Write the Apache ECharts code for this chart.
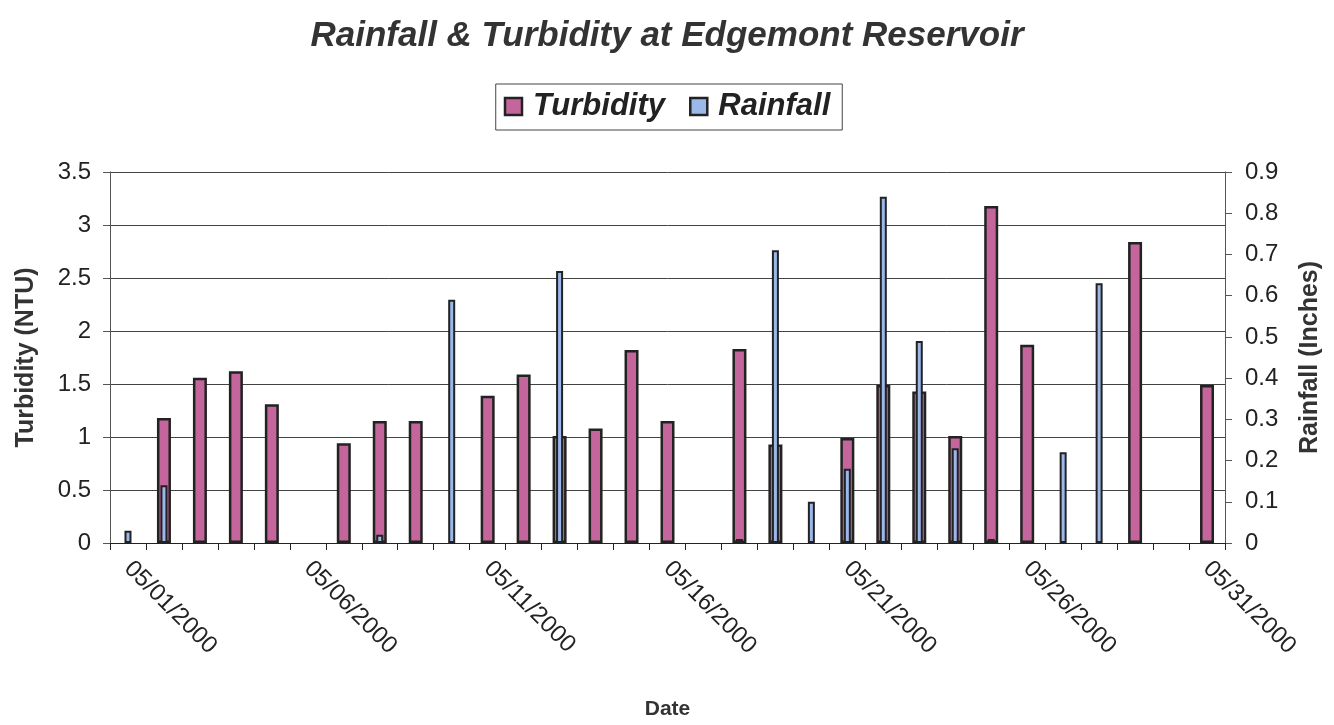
<!DOCTYPE html>
<html>
<head>
<meta charset="utf-8">
<script src="https://cdn.jsdelivr.net/npm/echarts@6/dist/echarts.min.js"></script>
<style>
html,body{margin:0;padding:0;background:#fff;}
#chart{width:1334px;height:725px;}
</style>
</head>
<body>
<div id="chart"></div>
<script>
const dates = ["05/01/2000","05/02/2000","05/03/2000","05/04/2000","05/05/2000","05/06/2000","05/07/2000","05/08/2000","05/09/2000","05/10/2000","05/11/2000","05/12/2000","05/13/2000","05/14/2000","05/15/2000","05/16/2000","05/17/2000","05/18/2000","05/19/2000","05/20/2000","05/21/2000","05/22/2000","05/23/2000","05/24/2000","05/25/2000","05/26/2000","05/27/2000","05/28/2000","05/29/2000","05/30/2000","05/31/2000"];
const turbidity = [null,1.18,1.56,1.62,1.31,null,0.94,1.15,1.15,null,1.39,1.59,1.01,1.08,1.82,1.15,null,1.83,0.93,null,0.99,1.49,1.43,1.01,3.18,1.87,null,null,2.84,null,1.49];
const rainfall = [0.03,0.14,null,null,null,null,null,0.02,null,0.59,null,null,0.66,null,null,null,null,0.01,0.71,0.10,0.18,0.84,0.49,0.23,0.01,null,0.22,0.63,null,null,null];
const turbTicks = {min:0,max:3.5,interval:0.5};
const rainTicks = {min:0,max:0.9,interval:0.1};

const FONT = '"Liberation Sans", Arial, sans-serif';
const gap = v => (v === null ? '-' : v);
const chart = echarts.init(document.getElementById('chart'));
chart.setOption({
  animation:false,
  backgroundColor:'#fff',
  title:{
    text:'Rainfall & Turbidity at Edgemont Reservoir',
    left:'center', top:14,
    textStyle:{fontFamily:FONT,fontSize:35,fontWeight:'bold',fontStyle:'italic',color:'#333'}
  },
  legend:{
    top:84, left:'center',
    data:['Turbidity','Rainfall'],
    icon:'rect', itemWidth:17, itemHeight:17, itemGap:24,
    borderColor:'#444', borderWidth:1, padding:[7,12,8,8],
    backgroundColor:'#fff',
    textStyle:{fontFamily:FONT,fontSize:31,fontWeight:'bold',fontStyle:'italic',color:'#222',padding:[0,0,0,6]},
    itemStyle:{borderColor:'#222',borderWidth:2.5}
  },
  grid:{left:110,right:109,top:172,bottom:177},
  xAxis:[{
    type:'category', data:dates, boundaryGap:true,
    name:'Date', nameLocation:'middle', nameGap:156,
    nameTextStyle:{fontFamily:FONT,fontSize:21,fontWeight:'bold',color:'#333'},
    axisLine:{lineStyle:{color:'#222',width:1}},
    axisTick:{show:true,interval:0,length:7,lineStyle:{color:'#222'}},
    axisLabel:{interval:4,rotate:-45,margin:22,fontFamily:FONT,fontSize:24,color:'#222'},
    splitLine:{show:false}
  },{
    type:'category', data:dates, boundaryGap:true, show:false
  }],
  yAxis:[{
    type:'value', min:turbTicks.min, max:turbTicks.max, interval:turbTicks.interval,
    name:'Turbidity (NTU)', nameLocation:'middle', nameGap:71,
    nameTextStyle:{fontFamily:FONT,fontSize:25,fontWeight:'bold',color:'#333'},
    axisLine:{show:true,lineStyle:{color:'#555'}},
    axisTick:{show:true,length:7,lineStyle:{color:'#555'}},
    axisLabel:{fontFamily:FONT,fontSize:24,color:'#222',margin:19},
    splitLine:{show:true,lineStyle:{color:'#444',width:1}}
  },{
    type:'value', min:rainTicks.min, max:rainTicks.max, interval:rainTicks.interval,
    position:'right',
    name:'Rainfall (Inches)', nameLocation:'middle', nameGap:73,
    nameTextStyle:{fontFamily:FONT,fontSize:25,fontWeight:'bold',color:'#333'},
    axisLine:{show:true,lineStyle:{color:'#555'}},
    axisTick:{show:true,length:7,lineStyle:{color:'#555'}},
    axisLabel:{fontFamily:FONT,fontSize:24,color:'#222',margin:20},
    splitLine:{show:false}
  }],
  series:[{
    name:'Turbidity', type:'bar', xAxisIndex:0, yAxisIndex:0, data:turbidity.map(gap),
    barWidth:14,
    itemStyle:{color:'#c4659b',borderColor:'#222',borderWidth:2.5}
  },{
    name:'Rainfall', type:'bar', xAxisIndex:1, yAxisIndex:1, data:rainfall.map(gap),
    barWidth:7,
    itemStyle:{color:'#9cb8ea',borderColor:'#222',borderWidth:2}
  }]
});
</script>
</body>
</html>
